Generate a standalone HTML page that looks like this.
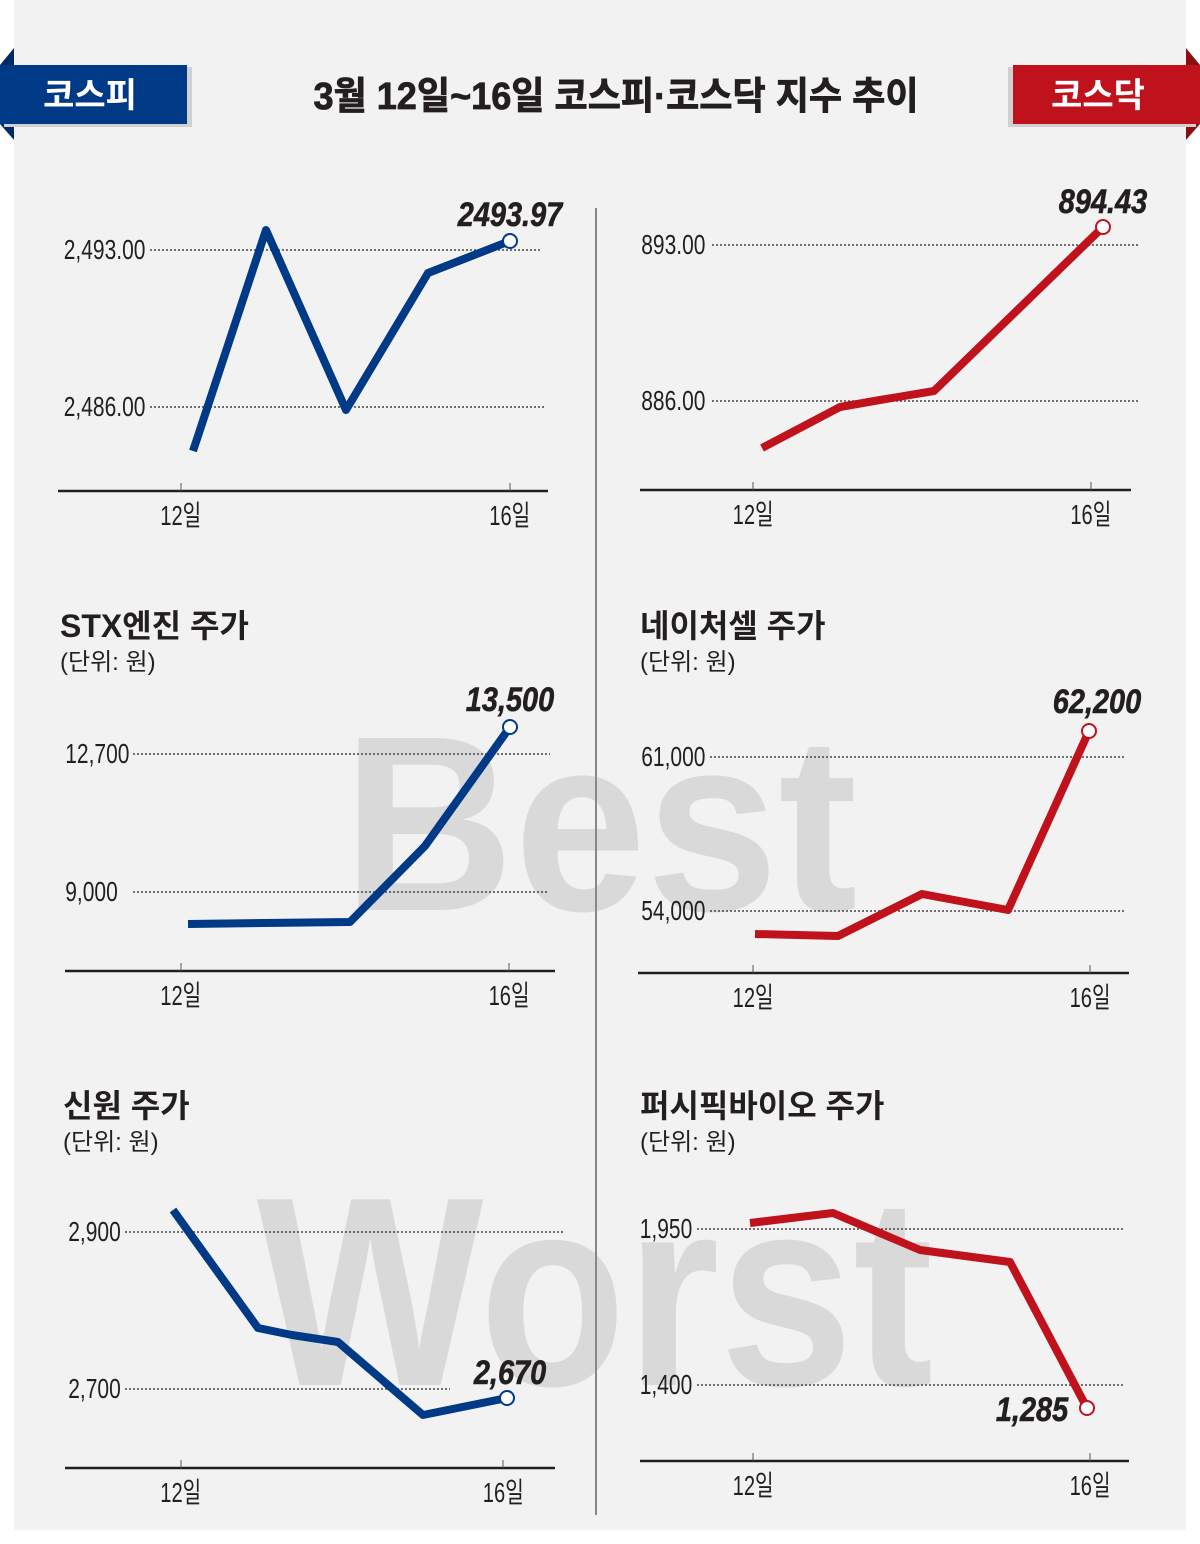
<!DOCTYPE html>
<html><head><meta charset="utf-8"><style>
body{margin:0;background:#fff}
svg{display:block}
.c{font-family:"Liberation Sans","Noto Sans CJK KR",sans-serif}
</style></head><body>
<svg class="c" width="1200" height="1544" viewBox="0 0 1200 1544">
<rect x="14" y="0" width="1172" height="1530" fill="#f2f2f2"/>
<text x="600" y="910" text-anchor="middle" font-size="250" font-weight="bold" fill="#d9d9d9" transform="translate(600 0) scale(0.95 1) translate(-600 0)">Best</text>
<text x="595" y="1385" text-anchor="middle" font-size="270" font-weight="bold" fill="#d9d9d9" transform="translate(595 0) scale(0.89 1) translate(-595 0)">Worst</text>
<polygon points="0,65 14,48 14,140 0,124" fill="#002a66"/>
<rect x="4" y="67" width="188" height="60" fill="#d0d0d0"/>
<rect x="0" y="65" width="187" height="59" fill="#003a87"/>
<text x="90" y="107" text-anchor="middle" font-size="34" font-weight="bold" fill="#fff">코스피</text>
<polygon points="1200,65 1186,48 1186,140 1200,124" fill="#8c0d14"/>
<rect x="1008" y="67" width="188" height="60" fill="#d0d0d0"/>
<rect x="1013" y="65" width="187" height="59" fill="#c0121c"/>
<text x="1098" y="107" text-anchor="middle" font-size="34" font-weight="bold" fill="#fff">코스닥</text>
<text x="616" y="109" text-anchor="middle" font-size="38" font-weight="bold" fill="#231f20" stroke="#231f20" stroke-width="0.8" transform="translate(616 0) scale(0.95 1) translate(-616 0)">3월 12일~16일  코스피·코스닥 지수 추이</text>
<line x1="596" y1="208" x2="596" y2="1515" stroke="#888" stroke-width="2"/>
<g font-size="28" fill="#231f20">
<g stroke="#444" stroke-width="1.5" stroke-dasharray="2 2"><line x1="150" y1="250" x2="540" y2="250"/><line x1="150" y1="407" x2="546" y2="407"/>
<line x1="712" y1="245" x2="1138" y2="245"/><line x1="712" y1="401" x2="1138" y2="401"/>
<line x1="133" y1="754" x2="550" y2="754"/><line x1="133" y1="892" x2="547" y2="892"/>
<line x1="710" y1="757" x2="1125" y2="757"/><line x1="710" y1="911" x2="1125" y2="911"/>
<line x1="125" y1="1232" x2="563" y2="1232"/><line x1="125" y1="1389" x2="450" y2="1389"/>
<line x1="697" y1="1229" x2="1125" y2="1229"/><line x1="697" y1="1385" x2="1125" y2="1385"/></g>
<g stroke="#231f20" stroke-width="2.5"><line x1="58" y1="491" x2="548" y2="491"/><line x1="640" y1="490" x2="1131" y2="490"/>
<line x1="65" y1="971" x2="555" y2="971"/><line x1="638" y1="973" x2="1129" y2="973"/>
<line x1="65" y1="1468" x2="555" y2="1468"/><line x1="640" y1="1461" x2="1129" y2="1461"/></g>
<g stroke="#555" stroke-width="1"><line x1="181" y1="483" x2="181" y2="491"/><line x1="510" y1="483" x2="510" y2="491"/>
<line x1="753" y1="482" x2="753" y2="490"/><line x1="1091" y1="482" x2="1091" y2="490"/>
<line x1="181" y1="963" x2="181" y2="971"/><line x1="509" y1="963" x2="509" y2="971"/>
<line x1="753" y1="965" x2="753" y2="973"/><line x1="1090" y1="965" x2="1090" y2="973"/>
<line x1="181" y1="1460" x2="181" y2="1468"/><line x1="503" y1="1460" x2="503" y2="1468"/>
<line x1="753" y1="1453" x2="753" y2="1461"/><line x1="1090" y1="1453" x2="1090" y2="1461"/></g>
<g transform="scale(0.72 1)" text-anchor="middle">
<text x="251" y="525">12일</text><text x="708" y="525">16일</text>
<text x="1046" y="524">12일</text><text x="1515" y="524">16일</text>
<text x="251" y="1005">12일</text><text x="707" y="1005">16일</text>
<text x="1046" y="1007">12일</text><text x="1514" y="1007">16일</text>
<text x="251" y="1502">12일</text><text x="699" y="1502">16일</text>
<text x="1046" y="1495">12일</text><text x="1514" y="1495">16일</text>
</g>
<g transform="scale(0.75 1)">
<text x="85" y="259">2,493.00</text><text x="85" y="416">2,486.00</text>
<text x="855" y="254">893.00</text><text x="855" y="410">886.00</text>
<text x="87" y="763">12,700</text><text x="87" y="901">9,000</text>
<text x="855" y="766">61,000</text><text x="855" y="920">54,000</text>
<text x="91" y="1241">2,900</text><text x="91" y="1398">2,700</text>
<text x="853" y="1238">1,950</text><text x="853" y="1394">1,400</text>
</g>
</g>
<g font-weight="bold" fill="#231f20" font-size="32">
<text x="60" y="637">STX엔진 주가</text>
<text x="640" y="637">네이처셀 주가</text>
<text x="63" y="1117">신원 주가</text>
<text x="640" y="1117">퍼시픽바이오 주가</text>
</g>
<g font-size="24" fill="#231f20">
<text x="60" y="670">(단위: 원)</text><text x="640" y="670">(단위: 원)</text>
<text x="63" y="1150">(단위: 원)</text><text x="640" y="1150">(단위: 원)</text>
</g>
<g fill="none" stroke-width="8" stroke-linejoin="round">
<polyline stroke="#003a87" points="193,451 266,230 346,410 428,273 510,241"/>
<polyline stroke="#c0121c" points="762,448 840,407 880,400 934,391 1103,227"/>
<polyline stroke="#003a87" points="188,924 350,922 425,846 510,727"/>
<polyline stroke="#c0121c" points="755,934 838,936 922,894 1008,910 1089,731"/>
<polyline stroke="#003a87" points="173,1210 258,1328 292,1335 338,1342 423,1415 507,1398"/>
<polyline stroke="#c0121c" points="750,1223 833,1213 920,1250 1010,1262 1087,1408"/>
</g>
<g fill="#fff" stroke-width="2">
<circle cx="510" cy="241" r="7" stroke="#003a87"/><circle cx="1103" cy="227" r="7" stroke="#c0121c"/>
<circle cx="510" cy="727" r="7" stroke="#003a87"/><circle cx="1089" cy="731" r="7" stroke="#c0121c"/>
<circle cx="507" cy="1398" r="7" stroke="#003a87"/><circle cx="1087" cy="1408" r="7" stroke="#c0121c"/>
</g>
<g font-size="34" font-weight="bold" font-style="italic" fill="#231f20" stroke="#231f20" stroke-width="0.6" text-anchor="middle">
<text transform="translate(510 226) scale(0.85 1)">2493.97</text>
<text transform="translate(1103 213) scale(0.85 1)">894.43</text>
<text transform="translate(510 711) scale(0.85 1)">13,500</text>
<text transform="translate(1097 713) scale(0.85 1)">62,200</text>
<text transform="translate(510 1384) scale(0.85 1)">2,670</text>
<text transform="translate(1032 1421) scale(0.85 1)">1,285</text>
</g>
</svg>
</body></html>
